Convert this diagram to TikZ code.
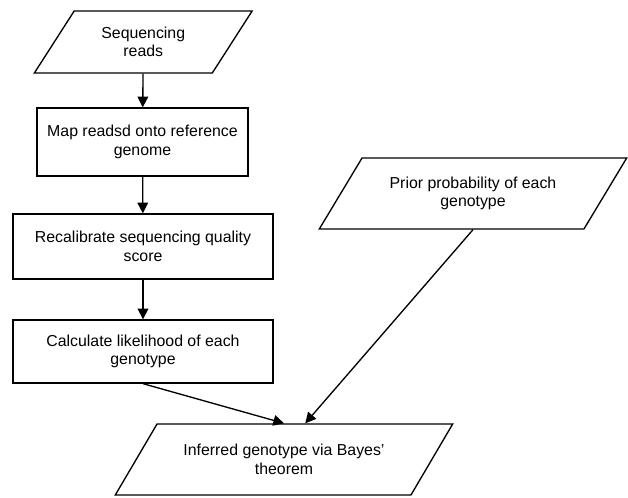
\documentclass[tikz,border=0pt]{standalone}
\usepackage{fontspec}
\setmainfont{Liberation Sans}
\usetikzlibrary{shapes.geometric,arrows.meta,calc}
\tikzset{
 every node/.style={font=\fontsize{11.9}{13.8}\selectfont, align=center},
 stepbox/.style={draw, line width=1pt, inner sep=2pt},
 inout/.style={draw, line width=1pt, trapezium, trapezium stretches=true, inner sep=2pt},
 flow/.style={line width=1pt, -{Triangle[length=8pt,width=8pt]}}
}
\begin{document}
\begin{tikzpicture}[x=0.75pt,y=-0.75pt]
 \useasboundingbox (0,0) rectangle (628,498);
 \node[inout, trapezium left angle=54, trapezium right angle=126, minimum width=163.5pt, minimum height=46.5pt] (reads) at (143.25,42) {Sequencing\\reads};
 \node[stepbox, minimum width=158.25pt, minimum height=51pt] (map) at (142.5,142) {Map readsd onto reference\\genome};
 \node[stepbox, minimum width=195pt, minimum height=48.75pt] (recal) at (143,246.5) {Recalibrate sequencing quality\\score};
 \node[stepbox, minimum width=195pt, minimum height=47.25pt] (calc) at (143,351.5) {Calculate likelihood of each\\genotype};
 \node[inout, trapezium left angle=49.3, trapezium right angle=130.7, minimum width=231pt, minimum height=53.25pt] (prior) at (473,193.5) {Prior probability of each\\genotype};
 \node[inout, trapezium left angle=46.2, trapezium right angle=133.8, minimum width=253.5pt, minimum height=53.25pt] (bayes) at (284,459.5) {Inferred genotype via Bayes'\\theorem};

 \draw[flow] (reads) -- (map);
 \draw[flow] (map) -- (recal);
 \draw[flow] (recal) -- (calc);
 \draw[flow] (calc.south) -- (bayes.north);
 \draw[flow] (prior.south) -- ($(bayes.top left corner)!0.5!(bayes.top right corner)$);
\end{tikzpicture}
\end{document}
